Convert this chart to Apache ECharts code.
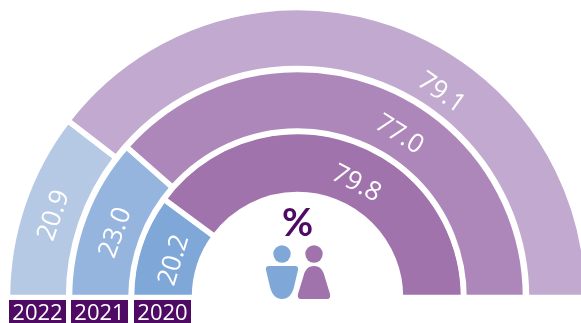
<!DOCTYPE html>
<html><head><meta charset="utf-8">
<style>html,body{margin:0;padding:0;background:#fff}#c{width:581px;height:323px}</style>
<script src="https://cdn.jsdelivr.net/npm/echarts@6/dist/echarts.min.js"></script>
</head><body><div id="c"></div>
<script>
const years = ['2020', '2021', '2022'];
const blueValues = [20.2, 23.0, 20.9];
const purpleValues = [79.8, 77.0, 79.1];
const blueColors = ['#7fa8d9', '#95b5de', '#b5c9e5'];
const purpleColors = ['#a173ac', '#ae87ba', '#c2a9cf'];
const ringRadii = [[103, 166], [166.5, 228], [229, 290]];
const blueLabelAngles = [16.8, 19.6, 18.6];   // degrees up from the left
const purpleLabelAngles = [62.7, 58, 54.9];   // degrees up from the right
const blueLabelRadii = [129, 193, 257];
const purpleLabelRadii = [128, 192, 250];
const yearBoxX = [134, 71, 9];

const cx = 297.5, cy = 297.5, font = '"Open Sans", "Noto Sans", sans-serif';

const series = years.map((y, i) => ({
  type: 'pie', name: y, silent: true, animation: false,
  center: [cx, cy], radius: ringRadii[i], startAngle: 180, endAngle: 0,
  itemStyle: { borderColor: '#fff', borderWidth: 5.5 },
  labelLine: { show: false },
  label: { show: true, position: 'inside', color: '#fff', fontFamily: font, fontSize: 26,
    formatter: p => p.value.toFixed(1) },
  labelLayout: p => {
    const isBlue = p.dataIndex === 0;
    const deg = isBlue ? blueLabelAngles[i] : purpleLabelAngles[i];
    const a = deg * Math.PI / 180;
    const r = isBlue ? blueLabelRadii[i] : purpleLabelRadii[i];
    return {
      x: cx + (isBlue ? -1 : 1) * r * Math.cos(a),
      y: cy - r * Math.sin(a),
      align: 'center', verticalAlign: 'middle',
      rotate: isBlue ? 90 - deg : deg - 90
    };
  },
  data: [
    { name: 'blue', value: blueValues[i], itemStyle: { color: blueColors[i] } },
    { name: 'purple', value: purpleValues[i], itemStyle: { color: purpleColors[i] } }
  ]
}));

const gfx = echarts.graphic;
gfx.registerShape('bodyBlue', gfx.extendPath('M269 266 H295 Q298.8 266 298 270 L294 287 C292 295 288 299 282 299 C276 299 272 295 270 287 L266 270 Q265.2 266 269 266 Z', {}));
gfx.registerShape('bodyPurple', gfx.extendPath('M314 266 C320 266 323 270 324.5 276 L330 294 Q331 299 327 299 H301 Q297 299 298 294 L303.5 276 C305 270 308 266 314 266 Z', {}));

const graphic = [];
years.forEach((y, i) => {
  graphic.push({ type: 'rect', z: 10, shape: { x: yearBoxX[i], y: 300, width: 57, height: 23 }, style: { fill: '#4f0b63' } });
  graphic.push({ type: 'text', z: 11, x: yearBoxX[i] + 28.5, y: 313.5,
    style: { text: y, fill: '#fff', font: '22px ' + font, align: 'center', verticalAlign: 'middle' } });
});
graphic.push({ type: 'text', z: 11, x: 297.5, y: 224,
  style: { text: '%', fill: '#4f0b63', font: '700 38px Lato, ' + font, align: 'center', verticalAlign: 'middle' } });
graphic.push({ type: 'circle', z: 11, shape: { cx: 282, cy: 254, r: 8.7 }, style: { fill: '#7fa8d9' } });
graphic.push({ type: 'circle', z: 11, shape: { cx: 314, cy: 254, r: 8.7 }, style: { fill: '#a173ac' } });
graphic.push({ type: 'bodyBlue', z: 11, style: { fill: '#7fa8d9' } });
graphic.push({ type: 'bodyPurple', z: 11, style: { fill: '#a173ac' } });

echarts.init(document.getElementById('c'), null, { renderer: 'canvas' }).setOption({
  animation: false, backgroundColor: '#fff', series, graphic
});
</script></body></html>
